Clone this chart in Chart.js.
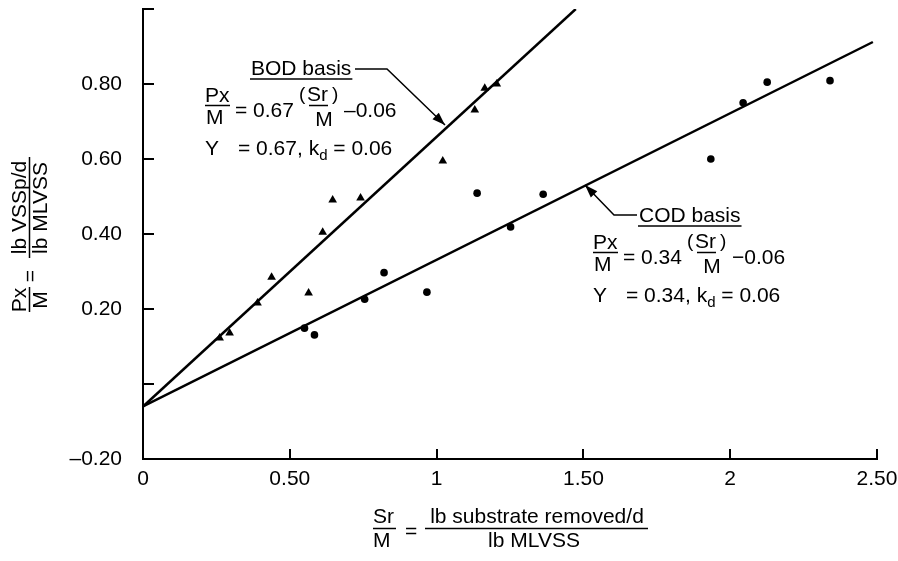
<!DOCTYPE html>
<html><head><meta charset="utf-8">
<script src="https://cdn.jsdelivr.net/npm/chart.js@4.4.0/dist/chart.umd.min.js"></script>
<style>html,body{margin:0;padding:0;background:#fff;} canvas{display:block;}</style>
</head><body>
<canvas id="c" width="898" height="561"></canvas>
<script>
// ---- data ----
const bodX = [0.261, 0.295, 0.390, 0.438, 0.564, 0.612, 0.646, 0.741, 1.021, 1.130, 1.164, 1.205];
const bodY = [0.123, 0.136, 0.216, 0.285, 0.243, 0.405, 0.491, 0.496, 0.595, 0.731, 0.789, 0.800];
const codX = [0.550, 0.584, 0.755, 0.821, 0.967, 1.138, 1.252, 1.363, 1.934, 2.044, 2.126, 2.340];
const codY = [0.149, 0.131, 0.226, 0.297, 0.245, 0.509, 0.419, 0.506, 0.600, 0.750, 0.805, 0.809];
const bodLineX = [0, 1.474];
const bodLineY = [-0.06, 1.0];
const codLineX = [0, 2.486];
const codLineY = [-0.06, 0.912];
const xTicks = [0, 0.5, 1, 1.5, 2, 2.5];
const xTickLabels = ["0", "0.50", "1", "1.50", "2", "2.50"];
const yTicks = [-0.2, 0, 0.2, 0.4, 0.6, 0.8, 1.0];
const yTickLabels = ["\u20130.20", "", "0.20", "0.40", "0.60", "0.80", ""];

const FONT = '"Liberation Sans", Arial, Helvetica, sans-serif';
const pts = (xs, ys) => xs.map((x, i) => ({x: x, y: ys[i]}));

function hline(ctx, x0, x1, y, w) {
  ctx.lineWidth = w || 1.5;
  ctx.beginPath(); ctx.moveTo(x0, y); ctx.lineTo(x1, y); ctx.stroke();
}
function seg(ctx, pts, w) {
  ctx.lineWidth = w || 1.5;
  ctx.beginPath(); ctx.moveTo(pts[0][0], pts[0][1]);
  for (let i = 1; i < pts.length; i++) ctx.lineTo(pts[i][0], pts[i][1]);
  ctx.stroke();
}
function head(ctx, x0, y0, x1, y1) {
  const ang = Math.atan2(y1 - y0, x1 - x0), L = 13, W = 4.5;
  const bx = x1 - L * Math.cos(ang), by = y1 - L * Math.sin(ang);
  ctx.beginPath();
  ctx.moveTo(x1, y1);
  ctx.lineTo(bx + W * Math.sin(ang), by - W * Math.cos(ang));
  ctx.lineTo(bx - W * Math.sin(ang), by + W * Math.cos(ang));
  ctx.closePath(); ctx.fill();
}
function eqBlock(ctx, L, B, label, coef, dash) {
  ctx.font = '21px ' + FONT; ctx.textAlign = 'left'; ctx.textBaseline = 'alphabetic';
  ctx.fillText(label, L + 46, B);
  const w = ctx.measureText(label).width;
  hline(ctx, L + 45, L + 47 + w, B + 4);
  ctx.fillText('Px', L, B + 27);
  hline(ctx, L, L + 25, B + 30.5);
  ctx.fillText('M', L + 1, B + 49);
  ctx.fillText('= ' + coef, L + 30, B + 42);
  ctx.font = '19px ' + FONT;
  ctx.fillText('(', L + 94, B + 25);
  ctx.fillText(')', L + 127, B + 25);
  ctx.font = '21px ' + FONT;
  ctx.fillText('Sr', L + 102, B + 26);
  hline(ctx, L + 104, L + 123, B + 30.5);
  ctx.textAlign = 'center'; ctx.fillText('M', L + 119, B + 51); ctx.textAlign = 'left';
  ctx.fillText(dash + '0.06', L + 139, B + 42);
  ctx.fillText('Y', L, B + 80);
  let x = L + 33; const s1 = '= ' + coef + ', k';
  ctx.fillText(s1, x, B + 80); x += ctx.measureText(s1).width;
  ctx.font = '15px ' + FONT; ctx.fillText('d', x, B + 85); x += ctx.measureText('d').width;
  ctx.font = '21px ' + FONT; ctx.fillText(' = 0.06', x, B + 80);
}

const annot = {
  id: 'annot',
  afterDraw(chart) {
    const ctx = chart.ctx, xs = chart.scales.x, ys = chart.scales.y, a = chart.chartArea;
    ctx.save();
    ctx.fillStyle = '#000'; ctx.strokeStyle = '#000'; ctx.lineCap = 'butt';
    // inward tick marks
    yTicks.forEach(v => { const p = Math.round(ys.getPixelForValue(v)); hline(ctx, a.left, a.left + 11, p, 2); });
    ctx.lineWidth = 2;
    xTicks.forEach(v => {
      const p = Math.round(xs.getPixelForValue(v));
      ctx.beginPath(); ctx.moveTo(p, a.bottom); ctx.lineTo(p, a.bottom - 10); ctx.stroke();
    });
    // equation blocks
    eqBlock(ctx, 205, 75, 'BOD basis', '0.67', '\u2013');
    eqBlock(ctx, 593, 222, 'COD basis', '0.34', '\u2212');
    // leaders
    seg(ctx, [[355, 69], [387, 69], [445, 125]], 1.5);
    head(ctx, 387, 69, 445, 125);
    seg(ctx, [[637, 215], [614, 215], [585, 185]], 1.5);
    head(ctx, 614, 215, 585, 185);
    // x-axis title
    ctx.font = '21px ' + FONT; ctx.textAlign = 'left'; ctx.textBaseline = 'alphabetic';
    ctx.fillText('Sr', 373, 523);
    hline(ctx, 373, 396, 528.5);
    ctx.fillText('M', 373, 547);
    ctx.fillText('=', 405, 538);
    ctx.textAlign = 'center';
    ctx.fillText('lb substrate removed/d', 537, 523);
    hline(ctx, 425, 648, 528.5);
    ctx.fillText('lb MLVSS', 534, 547);
    // y-axis title (rotated)
    const rt = (s, sx, base, align) => {
      ctx.save(); ctx.translate(base, sx); ctx.rotate(-Math.PI / 2);
      ctx.textAlign = align || 'center'; ctx.fillText(s, 0, 0); ctx.restore();
    };
    rt('lb VSSp/d', 207.5, 26);
    rt('lb MLVSS', 208, 47);
    const vline = (x, y0, y1) => { ctx.lineWidth = 1.5; ctx.beginPath(); ctx.moveTo(x, y0); ctx.lineTo(x, y1); ctx.stroke(); };
    vline(29.5, 157, 258);
    rt('=', 276, 37);
    rt('Px', 300, 26);
    vline(29.5, 287, 312);
    rt('M', 300, 47);
    ctx.restore();
  }
};

new Chart(document.getElementById('c'), {
  type: 'scatter',
  data: {
    datasets: [
      {label: 'BOD basis', data: pts(bodX, bodY), pointStyle: 'triangle', pointRadius: 5, backgroundColor: '#000', borderColor: '#000', borderWidth: 0, showLine: false},
      {label: 'COD basis', data: pts(codX, codY), pointStyle: 'circle', pointRadius: 3.8, backgroundColor: '#000', borderColor: '#000', borderWidth: 0, showLine: false},
      {label: 'BOD fit', data: pts(bodLineX, bodLineY), showLine: true, pointRadius: 0, borderColor: '#000', borderWidth: 2.5, fill: false},
      {label: 'COD fit', data: pts(codLineX, codLineY), showLine: true, pointRadius: 0, borderColor: '#000', borderWidth: 2.5, fill: false}
    ]
  },
  options: {
    responsive: false, animation: false, devicePixelRatio: 1,
    layout: {padding: {top: 9, right: 21, left: 0, bottom: 0}},
    plugins: {legend: {display: false}, tooltip: {enabled: false}},
    scales: {
      x: {
        type: 'linear', min: 0, max: 2.5,
        afterBuildTicks: s => { s.ticks = xTicks.map(v => ({value: v})); },
        afterFit: s => { s.height = 102; s.paddingLeft = 0; s.paddingRight = 0; },
        grid: {display: false, drawTicks: false, tickLength: 0},
        border: {display: true, color: '#000', width: 2},
        ticks: {color: '#000', font: {family: FONT, size: 21}, padding: 8, maxRotation: 0, autoSkip: false,
                callback: (v, i) => xTickLabels[i]}
      },
      y: {
        type: 'linear', min: -0.2, max: 1.0,
        afterBuildTicks: s => { s.ticks = yTicks.map(v => ({value: v})); },
        afterFit: s => { s.width = 143; s.paddingTop = 0; s.paddingBottom = 0; },
        grid: {display: false, drawTicks: false, tickLength: 0},
        border: {display: true, color: '#000', width: 2},
        ticks: {color: '#000', font: {family: FONT, size: 21}, padding: 21, autoSkip: false,
                callback: (v, i) => yTickLabels[i]}
      }
    }
  },
  plugins: [annot]
});
</script>
</body></html>
